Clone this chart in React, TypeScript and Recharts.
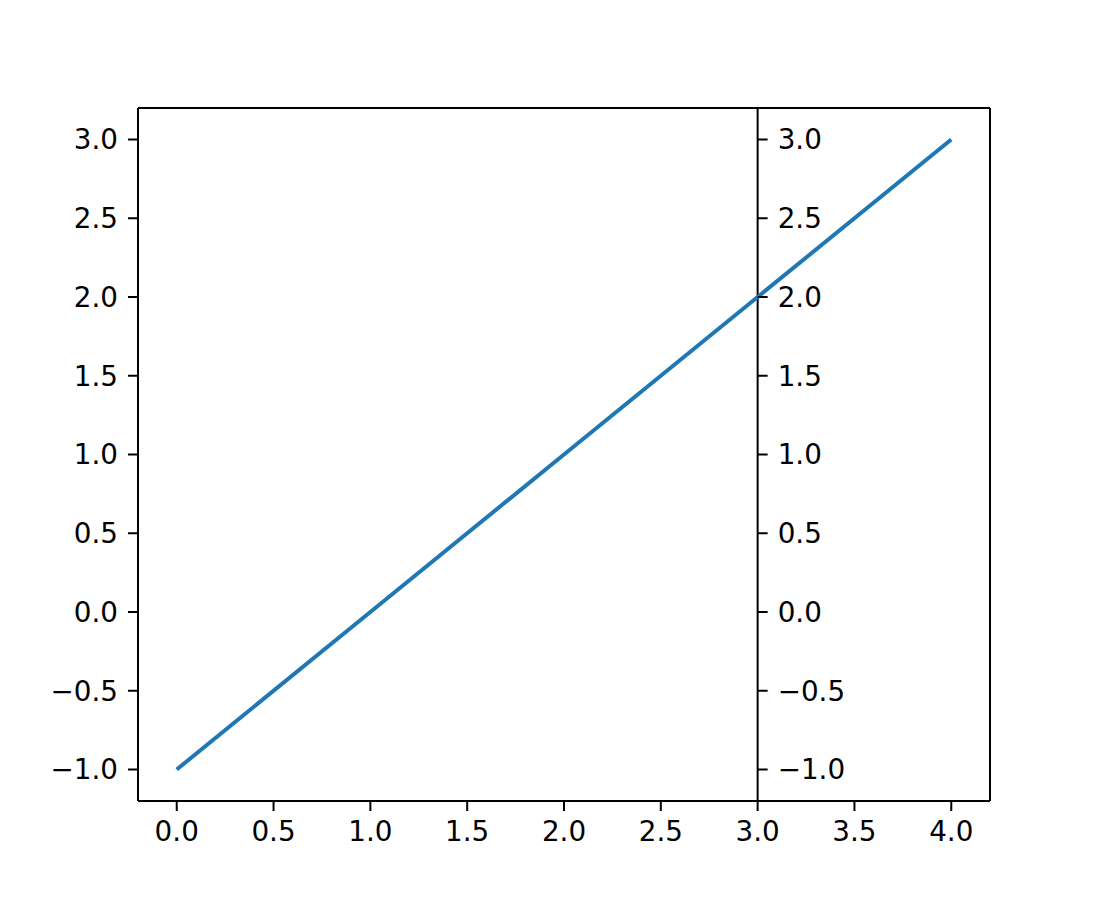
import React from 'react';
import {
  LineChart,
  Line,
  XAxis,
  YAxis,
  ReferenceLine,
  ReferenceDot
} from 'recharts';

// values
const xValues = [0, 1, 2, 3, 4];
const yValues = [-1, 0, 1, 2, 3];
const xTicks = [0, 0.5, 1, 1.5, 2, 2.5, 3, 3.5, 4];
const yTicks = [-1, -0.5, 0, 0.5, 1, 1.5, 2, 2.5, 3];
const xDomain = [-0.2, 4.2];
const yDomain = [-1.2, 3.2];
const spineX = 3;

const chartData = xValues.map((x, i) => ({ x, y: yValues[i] }));

const FONT = 'DejaVu Sans, sans-serif';
const FONT_SIZE = 27.8;

const fmt = (v: number) => v.toFixed(1).replace('-', '\u2212');

const tickStyle = { fill: '#000', fontSize: FONT_SIZE, fontFamily: FONT };
const axisLineStyle = { stroke: '#000', strokeWidth: 2 };
const tickLineStyle = { stroke: '#000', strokeWidth: 2 };

// tick + label drawn on the spine that sits at x = 3
const SpineTick = (props: any) => {
  const { cx, cy, value } = props;
  return (
    <g>
      <line x1={cx} y1={cy} x2={cx + 10} y2={cy} stroke="#000" strokeWidth={2} />
      <text
        x={cx + 20}
        y={cy}
        dy="0.355em"
        textAnchor="start"
        fill="#000"
        fontSize={FONT_SIZE}
        fontFamily={FONT}
      >
        {fmt(value)}
      </text>
    </g>
  );
};

const App: React.FC = () => {
  return (
    <div style={{ position: 'absolute', left: 0, top: 0, width: 1100, height: 900, background: '#fff' }}>
      <LineChart
        width={1100}
        height={900}
        data={chartData}
        margin={{ top: 108, right: 110, left: 0, bottom: 0 }}
      >
        <XAxis
          dataKey="x"
          type="number"
          domain={xDomain}
          ticks={xTicks}
          allowDataOverflow
          tickFormatter={fmt}
          height={99}
          tickSize={10}
          tickMargin={10}
          tick={tickStyle}
          axisLine={axisLineStyle}
          tickLine={tickLineStyle}
        />
        <YAxis
          type="number"
          domain={yDomain}
          ticks={yTicks}
          allowDataOverflow
          tickFormatter={fmt}
          width={138}
          tickSize={10}
          tickMargin={10}
          tick={tickStyle}
          axisLine={axisLineStyle}
          tickLine={tickLineStyle}
        />
        {/* top and right frame */}
        <ReferenceLine y={yDomain[1]} stroke="#000" strokeWidth={2} />
        <ReferenceLine x={xDomain[1]} stroke="#000" strokeWidth={2} />
        {/* the extra spine at x = 3 */}
        <ReferenceLine x={spineX} stroke="#000" strokeWidth={2} />
        {yTicks.map((v) => (
          <ReferenceDot
            key={v}
            x={spineX}
            y={v}
            r={0}
            shape={(p: any) => <SpineTick {...p} value={v} />}
          />
        ))}
        <Line
          type="linear"
          dataKey="y"
          stroke="#1f77b4"
          strokeWidth={4}
          dot={false}
          activeDot={false}
          isAnimationActive={false}
        />
      </LineChart>
    </div>
  );
};

export default App;
